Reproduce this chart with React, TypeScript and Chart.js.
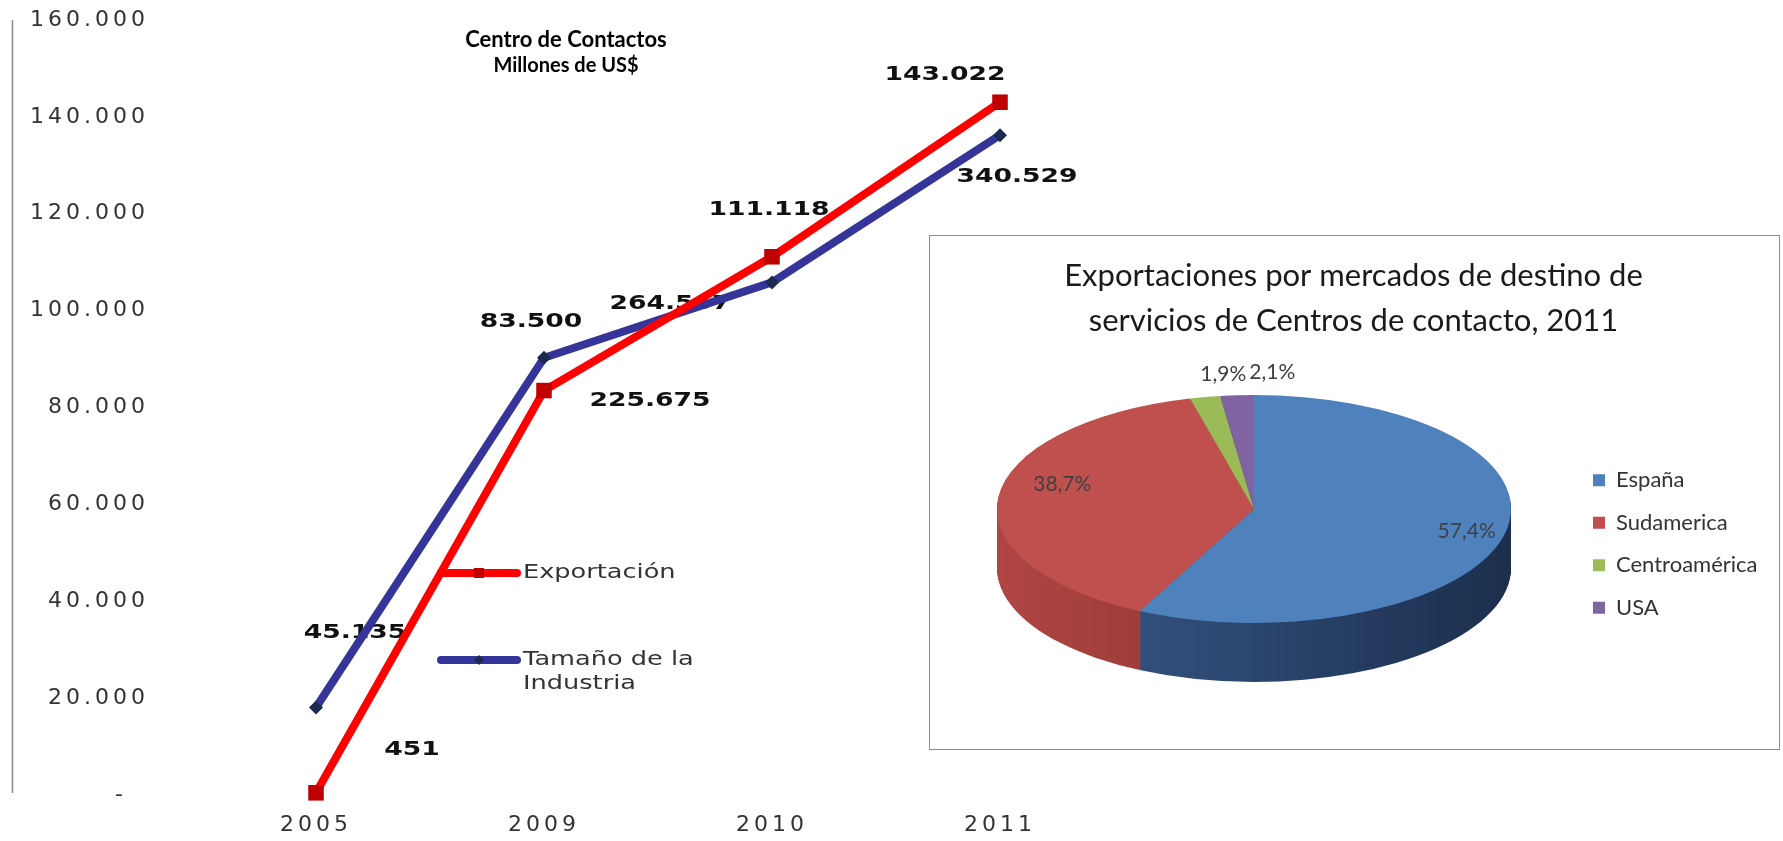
import React, { useEffect, useRef } from 'react';
import { Chart, registerables } from 'chart.js';

Chart.register(...registerables);

// ---------------- data ----------------
const YEARS = ['2005', '2009', '2010', '2011'];
const EXPORTACION = [451, 83500, 111118, 143022];
const TAMANO_INDUSTRIA = [45135, 225675, 264567, 340529];
const SERIES_NAMES = ['Exportación', 'Tamaño de la Industria'];
const Y_MAX = 160000;
const Y_STEP = 20000;
const Y2_MAX = 400000;
const CHART_TITLE = ['Centro de Contactos', 'Millones de US$'];

const PIE_TITLE = ['Exportaciones por mercados de destino de', 'servicios de Centros de contacto, 2011'];
const PIE_LABELS = ['España', 'Sudamerica', 'Centroamérica', 'USA'];
const PIE_VALUES = [57.4, 38.7, 1.9, 2.1];

// ---------------- styles / layout ----------------
const W = 1783;
const H = 841;
const LINE_FONT = 'DejaVu Sans';
const CAL_FONT = 'Lato';
const TICK_SPACING = '4px';

// label offsets (px) from each point, per series
const LABEL_OFFSETS = [
  [[96, -43], [-13, -68], [-3, -47], [-55, -27]],
  [[39, -74], [106, 43], [-102, 22], [17, 42]],
];
const LABEL_FONT_SIZE = 19;
const LABEL_STRETCH = 1.4;

const LEGEND = { x0: 441, x1: 517, xm: 479, textX: 523, rowsY: [573, 660], lineGap: 24, fontSize: 20, stretch: 1.28, maxWidth: 190 };
const TITLE_POS = { x: 566, y: [40, 66], sizes: [22, 20] };

const PIE_COLORS = ['#4F81BD', '#C0504D', '#9BBB59', '#8064A2'];
const PIE_SIDE_LIGHT = ['#3A5C8F', '#B04643', '#7E9A48', '#6A5388'];
const PIE_SIDE_DARK = ['#1C2F4D', '#6E2826', '#55692F', '#40335A'];
const PIE_GEOM = { rx: 257, ry: 114, dx: -2, dy: -35, depth: 59 };
const PIE_LABEL_POS = [
  { k: 0.85, dx: 0, dy: 0 },
  { k: 0.75, dx: 0, dy: -16 },
  { k: 1.22, dx: 29, dy: 2 },
  { k: 1.22, dx: 39, dy: 2 },
];

const fmt = (v: number) => String(Math.round(v)).replace(/\B(?=(\d{3})+(?!\d))/g, '.');
const setSpacing = (ctx: any, v: string) => {
  ctx.letterSpacing = v;
};

function drawStretched(ctx: CanvasRenderingContext2D, text: string, x: number, y: number, sx: number, align: CanvasTextAlign) {
  ctx.save();
  ctx.translate(x, y);
  ctx.scale(sx, 1);
  ctx.textAlign = align;
  ctx.fillText(text, 0, 0);
  ctx.restore();
}

const lineDecor = {
  id: 'lineDecor',
  beforeDraw(chart: any) {
    setSpacing(chart.ctx, TICK_SPACING);
  },
  beforeDatasetsDraw(chart: any) {
    const ctx = chart.ctx as CanvasRenderingContext2D;
    ctx.save();
    setSpacing(ctx, '0px');
    ctx.font = `bold ${LABEL_FONT_SIZE}px "${LINE_FONT}"`;
    ctx.fillStyle = '#111111';
    ctx.textBaseline = 'middle';
    chart.data.datasets.forEach((ds: any, i: number) => {
      const meta = chart.getDatasetMeta(i);
      meta.data.forEach((pt: any, j: number) => {
        const [dx, dy] = LABEL_OFFSETS[i][j];
        drawStretched(ctx, fmt(ds.data[j]), pt.x + dx, pt.y + dy, LABEL_STRETCH, 'center');
      });
    });
    ctx.restore();
  },
  afterDatasetsDraw(chart: any) {
    const ctx = chart.ctx as CanvasRenderingContext2D;
    ctx.save();
    setSpacing(ctx, '0px');
    chart.data.datasets.forEach((ds: any, i: number) => {
      const y = LEGEND.rowsY[i];
      ctx.beginPath();
      ctx.moveTo(LEGEND.x0, y);
      ctx.lineTo(LEGEND.x1, y);
      ctx.strokeStyle = ds.borderColor;
      ctx.lineWidth = ds.borderWidth;
      ctx.lineCap = 'round';
      ctx.stroke();
      ctx.fillStyle = ds.pointBackgroundColor;
      if (ds.pointStyle === 'rect') {
        ctx.fillRect(LEGEND.xm - 5, y - 5, 10, 10);
      } else {
        ctx.beginPath();
        ctx.moveTo(LEGEND.xm - 5, y);
        ctx.lineTo(LEGEND.xm, y - 5);
        ctx.lineTo(LEGEND.xm + 5, y);
        ctx.lineTo(LEGEND.xm, y + 5);
        ctx.closePath();
        ctx.fill();
      }
      ctx.font = `${LEGEND.fontSize}px "${LINE_FONT}"`;
      ctx.fillStyle = '#333333';
      ctx.textBaseline = 'middle';
      const words = String(ds.label).split(' ');
      const lines: string[] = [];
      let cur = '';
      words.forEach((w) => {
        const test = cur ? cur + ' ' + w : w;
        if (cur && ctx.measureText(test).width * LEGEND.stretch > LEGEND.maxWidth) {
          lines.push(cur);
          cur = w;
        } else cur = test;
      });
      if (cur) lines.push(cur);
      lines.forEach((ln, k) => drawStretched(ctx, ln, LEGEND.textX, y + k * LEGEND.lineGap, LEGEND.stretch, 'left'));
    });
    ctx.restore();
  },
  afterDraw(chart: any) {
    const ctx = chart.ctx as CanvasRenderingContext2D;
    const ys = chart.scales.y;
    ctx.save();
    setSpacing(ctx, '0px');
    ctx.beginPath();
    ctx.moveTo(ys.left + 0.5, ys.top);
    ctx.lineTo(ys.left + 0.5, ys.bottom - 2);
    ctx.strokeStyle = '#8c8c8c';
    ctx.lineWidth = 1.5;
    ctx.stroke();
    ctx.fillStyle = '#000000';
    ctx.textAlign = 'center';
    ctx.textBaseline = 'middle';
    CHART_TITLE.forEach((t, i) => {
      ctx.font = `bold ${TITLE_POS.sizes[i]}px "${CAL_FONT}"`;
      ctx.fillText(t, TITLE_POS.x, TITLE_POS.y[i]);
    });
    ctx.restore();
  },
};

function lineConfig(): any {
  return {
    type: 'line',
    data: {
      labels: YEARS,
      datasets: [
        {
          label: SERIES_NAMES[0],
          data: EXPORTACION,
          yAxisID: 'y',
          borderColor: '#FF0000',
          backgroundColor: '#C00000',
          borderWidth: 8,
          pointStyle: 'rect',
          pointRadius: 11,
          pointBackgroundColor: '#C00000',
          pointBorderWidth: 0,
          tension: 0,
          clip: false,
        },
        {
          label: SERIES_NAMES[1],
          data: TAMANO_INDUSTRIA,
          yAxisID: 'y2',
          borderColor: '#353599',
          backgroundColor: '#1B2B4D',
          borderWidth: 8,
          pointStyle: 'rectRot',
          pointRadius: 7,
          pointBackgroundColor: '#1B2B4D',
          pointBorderWidth: 0,
          tension: 0,
          clip: false,
        },
      ],
    },
    options: {
      responsive: false,
      animation: false,
      layout: { padding: { left: 12, top: 20, right: 669, bottom: 0 } },
      plugins: { legend: { display: false }, title: { display: false }, tooltip: { enabled: false } },
      scales: {
        x: {
          type: 'category',
          offset: true,
          grid: { display: false, drawTicks: false },
          border: { display: false },
          ticks: { color: '#333333', padding: 17, font: { family: LINE_FONT, size: 22 } },
          afterFit: (s: any) => {
            s.height = 46;
            s.paddingLeft = 0;
            s.paddingRight = 0;
          },
        },
        y: {
          position: 'left',
          min: 0,
          max: Y_MAX,
          grid: { display: false, drawTicks: false },
          border: { display: false },
          ticks: {
            stepSize: Y_STEP,
            color: '#333333',
            padding: 53,
            font: { family: LINE_FONT, size: 22 },
            callback: (v: number) => (v === 0 ? '-  ' : fmt(v)),
          },
          afterFit: (s: any) => {
            s.width = 190;
            s.paddingTop = 0;
            s.paddingBottom = 0;
          },
        },
        y2: { display: false, min: 0, max: Y2_MAX },
      },
    },
    plugins: [lineDecor],
  };
}

const pie3d = {
  id: 'pie3d',
  beforeDatasetsDraw(chart: any) {
    const arcs = chart.getDatasetMeta(0).data as any[];
    if (!arcs.length) return;
    const { x: cx, y: cy, outerRadius: r } = arcs[0];
    const sx = PIE_GEOM.rx / r;
    const sy = PIE_GEOM.ry / r;
    const tx = cx + PIE_GEOM.dx;
    const ty = cy + PIE_GEOM.dy;
    const ctx = chart.ctx as CanvasRenderingContext2D;
    const grads = arcs.map((_, i) => {
      const g = ctx.createLinearGradient(-r, 0, r, 0);
      g.addColorStop(0, PIE_SIDE_LIGHT[i]);
      g.addColorStop(1, PIE_SIDE_DARK[i]);
      return g;
    });
    for (let d = PIE_GEOM.depth; d >= 1; d--) {
      ctx.save();
      ctx.translate(tx, ty + d);
      ctx.scale(sx, sy);
      arcs.forEach((a, i) => {
        ctx.beginPath();
        ctx.moveTo(0, 0);
        ctx.arc(0, 0, r, a.startAngle, a.endAngle);
        ctx.closePath();
        ctx.fillStyle = grads[i];
        ctx.fill();
      });
      ctx.restore();
    }
    ctx.save();
    ctx.translate(tx, ty);
    ctx.scale(sx, sy);
    ctx.translate(-cx, -cy);
  },
  afterDatasetsDraw(chart: any) {
    const arcs = chart.getDatasetMeta(0).data as any[];
    if (!arcs.length) return;
    const ctx = chart.ctx as CanvasRenderingContext2D;
    ctx.restore();
    const { x: cx, y: cy } = arcs[0];
    const tx = cx + PIE_GEOM.dx;
    const ty = cy + PIE_GEOM.dy;
    ctx.save();
    ctx.font = `21px "${CAL_FONT}"`;
    ctx.fillStyle = '#404040';
    ctx.textAlign = 'center';
    ctx.textBaseline = 'middle';
    arcs.forEach((a, i) => {
      const mid = (a.startAngle + a.endAngle) / 2;
      const p = PIE_LABEL_POS[i];
      const x = tx + Math.cos(mid) * PIE_GEOM.rx * p.k + p.dx;
      const y = ty + Math.sin(mid) * PIE_GEOM.ry * p.k + p.dy;
      ctx.fillText(String(PIE_VALUES[i]).replace('.', ',') + '%', x, y);
    });
    ctx.restore();
  },
};

function pieConfig(): any {
  return {
    type: 'pie',
    data: {
      labels: PIE_LABELS,
      datasets: [{ data: PIE_VALUES, backgroundColor: PIE_COLORS, borderWidth: 0, clip: false }],
    },
    options: {
      responsive: false,
      animation: false,
      layout: { padding: { left: 49.5, right: 12.5, top: 0, bottom: 5 } },
      plugins: {
        title: {
          display: true,
          text: PIE_TITLE,
          fullSize: true,
          color: '#1a1a1a',
          font: { family: CAL_FONT, size: 31, weight: 'normal', lineHeight: 1.45 },
          padding: { top: 18, bottom: 0 },
        },
        legend: {
          position: 'right',
          fullSize: false,
          align: 'center',
          labels: {
            boxWidth: 12,
            boxHeight: 12,
            padding: 20.5,
            color: '#333333',
            font: { family: CAL_FONT, size: 22 },
          },
        },
        tooltip: { enabled: false },
      },
    },
    plugins: [pie3d],
  };
}

export default function App() {
  const lineRef = useRef<HTMLCanvasElement>(null);
  const pieRef = useRef<HTMLCanvasElement>(null);
  useEffect(() => {
    const line = new Chart(lineRef.current as HTMLCanvasElement, lineConfig());
    const pie = new Chart(pieRef.current as HTMLCanvasElement, pieConfig());
    return () => {
      line.destroy();
      pie.destroy();
    };
  }, []);
  return (
    <div style={{ position: 'fixed', left: 0, top: 0, width: W, height: H, background: '#ffffff', overflow: 'hidden' }}>
      <canvas ref={lineRef} width={W} height={H} style={{ position: 'absolute', left: 0, top: 0 }} />
      <div
        style={{
          position: 'absolute',
          left: 929,
          top: 235,
          width: 851,
          height: 515,
          border: '1px solid #8c8c8c',
          boxSizing: 'border-box',
          background: '#ffffff',
        }}
      />
      <canvas ref={pieRef} width={890} height={513} style={{ position: 'absolute', left: 890, top: 236 }} />
    </div>
  );
}
